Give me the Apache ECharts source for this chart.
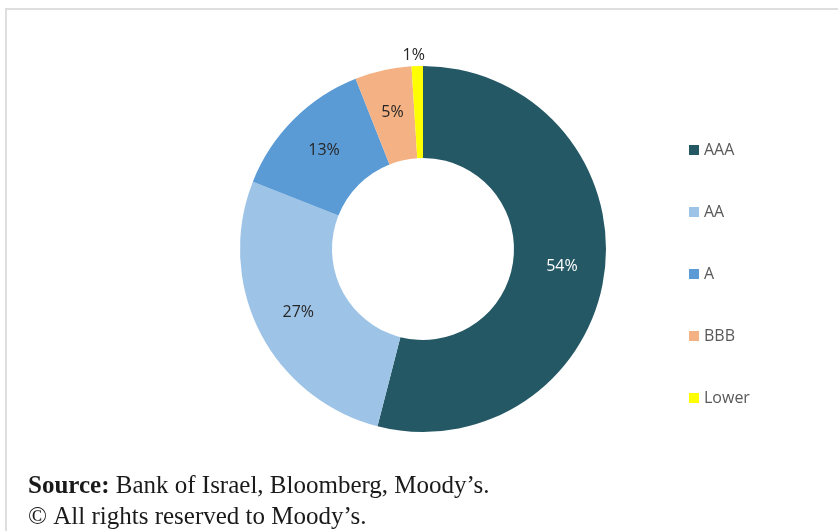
<!DOCTYPE html>
<html>
<head>
<meta charset="utf-8">
<style>
  html, body { margin: 0; padding: 0; background: #ffffff; }
  #chart { width: 838px; height: 531px; }
</style>
<script src="https://cdn.jsdelivr.net/npm/echarts@6/dist/echarts.min.js"></script>
</head>
<body>
<div id="chart"></div>
<script>
// Rating breakdown (percent of total)
const ratings = ['AAA', 'AA', 'A', 'BBB', 'Lower'];
const shares = [54, 27, 13, 5, 1];
const colors = ['#255865', '#9dc3e6', '#5b9bd5', '#f4b183', '#ffff00'];
const labelColors = ['#ffffff', '#262626', '#262626', '#262626', '#262626'];
const sourceLine = 'Bank of Israel, Bloomberg, Moody\u2019s.';
const rightsLine = '\u00a9 All rights reserved to Moody\u2019s.';

const chart = echarts.init(document.getElementById('chart'), null, { renderer: 'canvas' });

const pieData = ratings.map((name, i) => {
  const item = {
    name: name,
    value: shares[i],
    itemStyle: { color: colors[i] },
    label: { color: labelColors[i] }
  };
  // the thinnest slice carries its label just above the ring
  if (shares[i] < 3) {
    item.label = {
      show: true,
      position: 'outside',
      color: '#262626',
      distanceToLabelLine: -8
    };
    item.labelLine = { show: false, length: 11, length2: 0 };
  }
  return item;
});

chart.setOption({
  animation: false,
  backgroundColor: '#ffffff',
  legend: {
    orient: 'vertical',
    left: 684,
    top: 135,
    icon: 'rect',
    itemWidth: 10,
    itemHeight: 10,
    itemGap: 42,
    selectedMode: false,
    textStyle: {
      fontFamily: 'Open Sans, Noto Sans, sans-serif',
      fontSize: 16,
      color: '#595959',
      lineHeight: 20
    },
    data: ratings
  },
  series: [{
    type: 'pie',
    center: [423, 249],
    radius: [91, 183],
    startAngle: 90,
    clockwise: true,
    avoidLabelOverlap: false,
    silent: true,
    itemStyle: { borderWidth: 0 },
    label: {
      show: true,
      position: 'inside',
      formatter: '{c}%',
      fontFamily: 'Open Sans, Noto Sans, sans-serif',
      fontSize: 16
    },
    labelLine: { show: false },
    data: pieData
  }],
  graphic: [
    {
      type: 'polyline',
      shape: { points: [[6, 531], [6, 9], [838, 9]] },
      style: { stroke: '#dedede', lineWidth: 2, fill: null },
      silent: true
    },
    {
      type: 'text',
      left: 28,
      top: 474,
      style: {
        text: '{b|Source:} ' + sourceLine,
        rich: {
          b: { fontWeight: 'bold', fontFamily: 'Liberation Serif, Times New Roman, serif', fontSize: 25, fill: '#1a1a1a' }
        },
        fontFamily: 'Liberation Serif, Times New Roman, serif',
        fontSize: 25,
        fill: '#1a1a1a'
      }
    },
    {
      type: 'text',
      left: 28,
      top: 505,
      style: {
        text: rightsLine,
        fontFamily: 'Liberation Serif, Times New Roman, serif',
        fontSize: 25,
        fill: '#1a1a1a'
      }
    }
  ]
});
</script>
</body>
</html>
